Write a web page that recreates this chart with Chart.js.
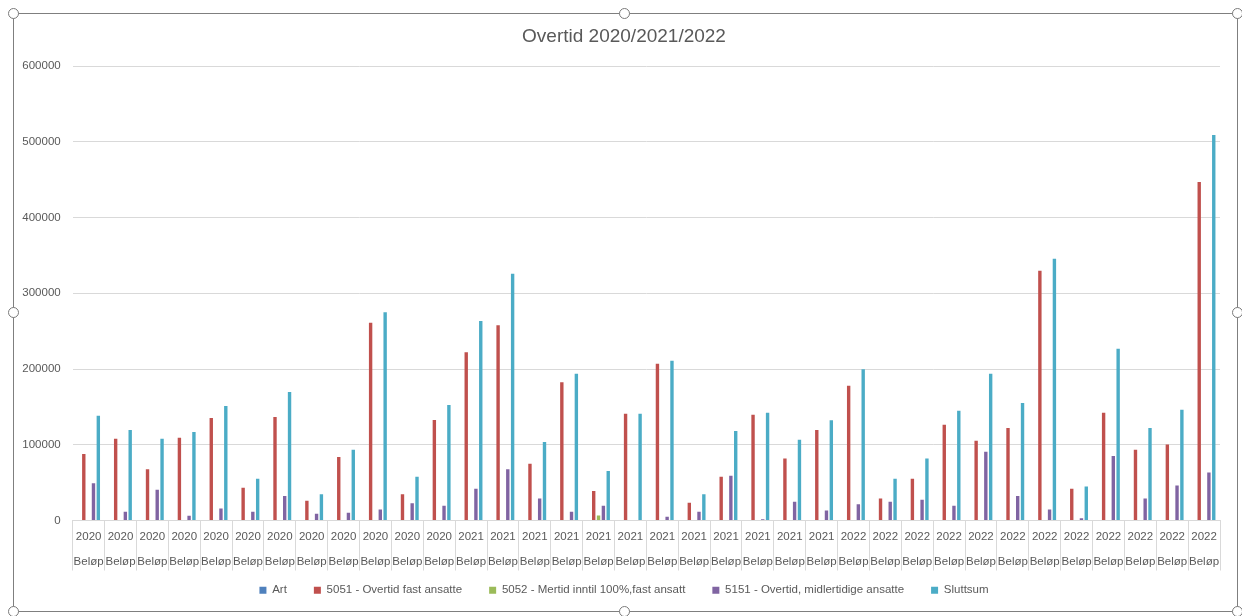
<!DOCTYPE html>
<html>
<head>
<meta charset="utf-8">
<script src="https://cdn.jsdelivr.net/npm/chart.js@4.4.1/dist/chart.umd.min.js"></script>
<style>
html,body{margin:0;padding:0;background:#fff;}
#wrap{position:relative;width:1242px;height:616px;overflow:hidden;}
#c{position:absolute;left:0;top:0;}
.frame{position:absolute;left:13px;top:13px;width:1225px;height:599px;border:1px solid #7f7f7f;box-sizing:border-box;pointer-events:none;}
.h{position:absolute;width:11px;height:11px;border:1.4px solid #7a7a7a;border-radius:50%;background:#fff;box-sizing:border-box;}
</style>
</head>
<body>
<div id="wrap">
<canvas id="c" width="1242" height="616"></canvas>
<div class="frame"></div>
<div class="h" style="left:8px;top:8px"></div>
<div class="h" style="left:619px;top:8px"></div>
<div class="h" style="left:1232px;top:8px"></div>
<div class="h" style="left:8px;top:307px"></div>
<div class="h" style="left:1232px;top:307px"></div>
<div class="h" style="left:8px;top:606px"></div>
<div class="h" style="left:619px;top:606px"></div>
<div class="h" style="left:1232px;top:606px"></div>
</div>
<script>
const FONT = '"Liberation Sans", Arial, sans-serif';

const years = [
  '2020','2020','2020','2020','2020','2020','2020','2020','2020','2020','2020','2020',
  '2021','2021','2021','2021','2021','2021','2021','2021','2021','2021','2021','2021',
  '2022','2022','2022','2022','2022','2022','2022','2022','2022','2022','2022','2022'
];
const subLabel = 'Beløp';

const seriesNames = [
  'Art',
  '5051 - Overtid fast ansatte',
  '5052 - Mertid inntil 100%,fast ansatt',
  '5151 - Overtid, midlertidige ansatte',
  'Sluttsum'
];

const art = [
  0,0,0,0,0,0,0,0,0,0,0,0,
  0,0,0,0,0,0,0,0,0,0,0,0,
  0,0,0,0,0,0,0,0,0,0,0,0
];
const overtidFast = [
  87700,107900,67800,109300,135200,43200,136600,26000,83700,260900,34800,132600,
  222000,257900,74900,182400,38800,141000,207000,23300,57700,139600,81900,119400,
  178000,29100,55100,126400,105300,122000,329600,41900,142300,93400,100400,447000
];
const mertid = [
  0,0,0,0,0,0,0,0,0,0,0,0,
  0,0,0,0,6600,0,0,0,0,0,0,0,
  0,0,0,0,0,0,0,0,0,0,0,0
];
const overtidMidl = [
  49300,11500,40500,6200,15900,11500,32200,8800,10100,14500,22900,19400,
  41900,67800,29100,11500,19400,0,4800,11500,59000,1800,24700,13200,
  21600,24700,27300,19400,90700,32200,14500,3100,85000,29100,46300,63400
];
const sluttsum = [
  138300,119400,107900,116700,151100,55100,169600,34800,93400,275000,57700,152400,
  263500,325600,103500,193800,65200,141000,211000,34800,118000,142300,106600,132200,
  199600,55100,81900,144900,193800,155000,345400,44900,226600,122000,146300,509000
];

const yTicks = [0,100000,200000,300000,400000,500000,600000];

const colors = ['#4F81BD','#C0504D','#9BBB59','#8064A2','#4BACC6'];
const values = [art, overtidFast, mertid, overtidMidl, sluttsum];

const labels = years.map(y => [y, subLabel]);

const datasets = seriesNames.map((name, i) => ({
  label: name,
  data: values[i],
  backgroundColor: colors[i],
  borderWidth: 0,
  categoryPercentage: 0.76,
  barPercentage: 0.7
}));

new Chart(document.getElementById('c'), {
  type: 'bar',
  data: { labels, datasets },
  options: {
    responsive: false,
    animation: false,
    devicePixelRatio: 1,
    layout: { padding: { left: 16, right: 10, top: 0, bottom: 10 } },
    plugins: {
      title: {
        display: true,
        text: 'Overtid 2020/2021/2022',
        color: '#595959',
        font: { family: FONT, size: 19, weight: 'normal', lineHeight: 1.2 },
        padding: { top: 25.6, bottom: 17.6 }
      },
      legend: {
        position: 'bottom',
        labels: {
          boxWidth: 7, boxHeight: 7, padding: 27,
          color: '#595959',
          font: { family: FONT, size: 11.5 }
        }
      },
      tooltip: { enabled: false }
    },
    scales: {
      x: {
        grid: { display: true, drawOnChartArea: false, drawTicks: true, tickLength: 50, color: '#d9d9d9', offset: true },
        border: { display: true, color: '#d9d9d9' },
        ticks: {
          color: '#595959',
          font: { family: FONT, size: 11.5, lineHeight: 2.217 },
          mirror: true,
          padding: -28.75,
          maxRotation: 0, minRotation: 0, autoSkip: false
        },
        afterFit(s) { s.height = 37; }
      },
      y: {
        min: yTicks[0], max: yTicks[yTicks.length - 1],
        afterBuildTicks(s) { s.ticks = yTicks.map(v => ({ value: v })); },
        ticks: {
          color: '#595959',
          font: { family: FONT, size: 11.5 },
          padding: 12,
          callback: v => String(v)
        },
        grid: { color: '#d9d9d9', drawTicks: false },
        border: { display: false },
        afterFit(s) { s.width = 56.7; }
      },
      yRight: {
        position: 'right',
        display: true,
        grid: { display: false, drawTicks: false },
        ticks: { display: false },
        border: { display: false },
        afterFit(s) { s.width = 12; }
      }
    }
  }
});
</script>
</body>
</html>
